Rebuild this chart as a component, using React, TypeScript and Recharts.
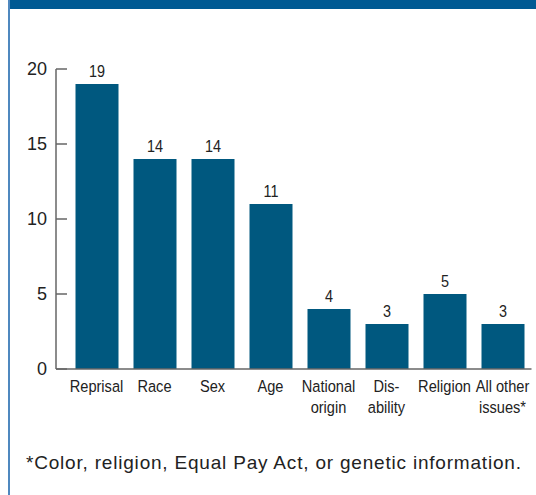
import React from 'react';
import { BarChart, Bar, XAxis, YAxis, LabelList } from 'recharts';

// Charge issues (counts) by category
const categories: string[] = [
  'Reprisal',
  'Race',
  'Sex',
  'Age',
  'National\norigin',
  'Dis-\nability',
  'Religion',
  'All other\nissues*',
];
const counts: number[] = [19, 14, 14, 11, 4, 3, 5, 3];
const yTicks: number[] = [0, 5, 10, 15, 20];
const footnote = '*Color, religion, Equal Pay Act, or genetic information.';

const data = categories.map((name, i) => ({ name, value: counts[i] }));

const BAR_COLOR = '#00587f';
const FRAME_COLOR = '#005a93';
const AXIS_COLOR = '#666666';
const TEXT_FONT = '"Liberation Sans", Arial, sans-serif';

const YTick = (props: any) => {
  const { x, y, payload } = props;
  return (
    <g>
      <line x1={x + 9} x2={x + 20} y1={y} y2={y} stroke={AXIS_COLOR} strokeWidth={1.5} />
      <text
        x={x}
        y={y}
        dy="0.36em"
        textAnchor="end"
        fontFamily={TEXT_FONT}
        fontSize={18}
        fill="#222"
      >
        {payload.value}
      </text>
    </g>
  );
};

// Category labels, horizontally condensed, split on line breaks
const XTick = (props: any) => {
  const { x, y, payload } = props;
  const lines = String(payload.value).split('\n');
  return (
    <g transform={`translate(${x},${y}) scale(0.86,1)`}>
      <text x={0} y={0} textAnchor="middle" fontFamily={TEXT_FONT} fontSize={17} fill="#222">
        {lines.map((line, i) => (
          <tspan key={i} x={0} dy={i === 0 ? 23 : 21}>
            {line}
          </tspan>
        ))}
      </text>
    </g>
  );
};

const ValueLabel = (props: any) => {
  const { x, y, width, value } = props;
  return (
    <g transform={`translate(${x + width / 2},${y - 7}) scale(0.9,1)`}>
      <text x={0} y={0} textAnchor="middle" fontFamily={TEXT_FONT} fontSize={16} fill="#222">
        {value}
      </text>
    </g>
  );
};

export default function App() {
  return (
    <div
      style={{
        position: 'absolute',
        left: 0,
        top: 0,
        width: 536,
        height: 495,
        background: '#fff',
        overflow: 'hidden',
      }}
    >
      {/* frame: heavy top rule and thin left rule */}
      <div
        style={{
          position: 'absolute',
          left: 8,
          top: 0,
          width: 528,
          height: 9,
          background: FRAME_COLOR,
        }}
      />
      <div
        style={{
          position: 'absolute',
          left: 8,
          top: 0,
          width: 1.5,
          height: 495,
          background: '#4f88bf',
        }}
      />
      <div style={{ position: 'absolute', left: 0, top: 0 }}>
        <BarChart
          width={536}
          height={495}
          data={data}
          margin={{ top: 69, right: 4.5, left: 0, bottom: 86 }}
          barSize={43}
        >
          <XAxis
            dataKey="name"
            type="category"
            interval={0}
            height={40}
            padding={{ left: 11.5, right: 0 }}
            axisLine={{ stroke: AXIS_COLOR, strokeWidth: 1.5 }}
            tickLine={false}
            tickSize={0}
            tickMargin={0}
            tick={<XTick />}
          />
          <YAxis
            type="number"
            domain={[0, 20]}
            ticks={yTicks}
            width={56}
            axisLine={{ stroke: AXIS_COLOR, strokeWidth: 1.5 }}
            tickLine={false}
            tickSize={0}
            tickMargin={9}
            tick={<YTick />}
          />
          <Bar dataKey="value" fill={BAR_COLOR} isAnimationActive={false}>
            <LabelList dataKey="value" content={<ValueLabel />} />
          </Bar>
        </BarChart>
      </div>
      <div
        style={{
          position: 'absolute',
          left: 26,
          top: 452,
          fontFamily: TEXT_FONT,
          fontSize: 19,
          letterSpacing: 0.8,
          color: '#222',
          whiteSpace: 'nowrap',
        }}
      >
        {footnote}
      </div>
    </div>
  );
}
